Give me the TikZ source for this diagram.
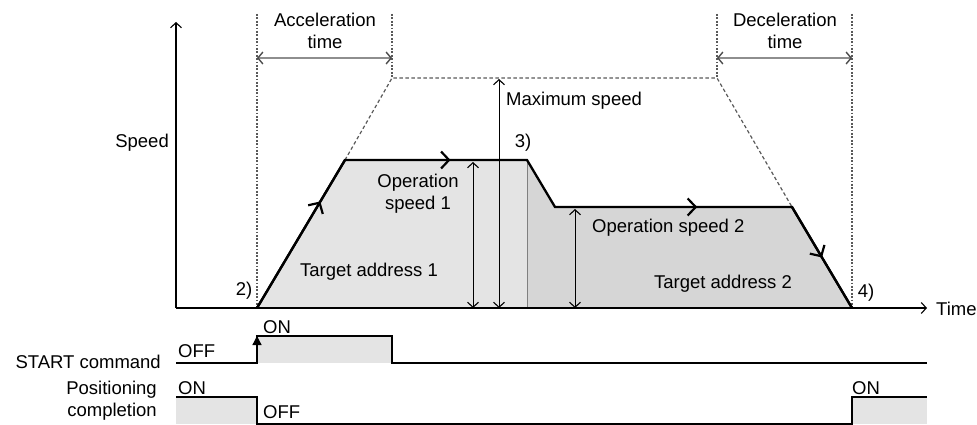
\documentclass[tikz,border=0pt]{standalone}
\usepackage{fontspec}
\setmainfont{Liberation Sans}
\usetikzlibrary{arrows.meta,decorations.markings}
\definecolor{fillA}{HTML}{E4E4E4}
\definecolor{fillB}{HTML}{D6D6D6}
\definecolor{spangray}{HTML}{8E8E8E}
\tikzset{
  barb/.tip={Straight Barb[length=5pt,width=11pt,line width=1.1pt]},
  bigbarb/.tip={Straight Barb[length=8pt,width=17pt,line width=2.2pt]},
  axis/.style={line width=1.1pt, -barb},
  profile/.style={line width=2.3pt, line join=miter},
  onarrow/.style={postaction={decorate,decoration={markings,
      mark=at position #1 with {\arrow{bigbarb}}}}},
  guide/.style={line width=1.2pt, dash pattern=on 1.8pt off 1.6pt, black!65},
  maxline/.style={line width=1.2pt, dash pattern=on 3.5pt off 2.5pt, black!65},
  dim/.style={line width=0.9pt, barb-barb},
  span/.style={line width=2.2pt, spangray,
    {Straight Barb[length=5pt,width=12pt,line width=1.4pt,color=black!70]}-{Straight Barb[length=5pt,width=12pt,line width=1.4pt,color=black!70]}},
  signal/.style={line width=1.3pt},
  lbl/.style={inner sep=0pt}
}
\begin{document}
\begin{tikzpicture}[x=1pt,y=-1pt, every node/.style={font=\fontsize{18.5}{22}\selectfont}]
    \useasboundingbox (0,0) rectangle (977,425);

    %%% speed / time graph %%%
    \coordinate (O) at (176,308);   \coordinate (Ytop) at (176,22);  \coordinate (Xend) at (927,308);
    \coordinate (A) at (257,308);   \coordinate (B) at (345,160);    \coordinate (C) at (527,160);
    \coordinate (D) at (555,207);   \coordinate (E) at (792,207);    \coordinate (F) at (852,308);
    \coordinate (Bmax) at (392,78); \coordinate (Emax) at (717,78);
    \coordinate (gA) at (257,14);   \coordinate (gB) at (392,14);
    \coordinate (gE) at (717,14);   \coordinate (gF) at (852,14);
    \coordinate (accL) at (257,58); \coordinate (accR) at (392,58);
    \coordinate (decL) at (717,58); \coordinate (decR) at (852,58);
    \coordinate (v1) at (473,162);  \coordinate (vmax) at (499,79);  \coordinate (v2) at (575,209);

    \fill[fillA] (A)--(B)--(C)--(C |- O)--cycle;
    \fill[fillB] (C)--(D)--(E)--(F)--(C |- O)--cycle;
    \draw[gray, line width=0.8pt] (C)--(C |- O);

    \draw[guide] (gA)--(A);   \draw[guide] (gB)--(Bmax);
    \draw[guide] (gE)--(Emax); \draw[guide] (gF)--(F);
    \draw[maxline] (B)--(Bmax)--(Emax)--(E);
    \draw[span] (accL)--(accR);  \draw[span] (decL)--(decR);

    \draw[axis] (O)--(Ytop);  \draw[axis] (O)--(Xend);

    \draw[dim] (v1)--(v1 |- O);  \draw[dim] (vmax)--(vmax |- O);  \draw[dim] (v2)--(v2 |- O);

    \draw[profile] (A)--(B)--(C)--(D)--(E)--(F);
    \draw[profile, onarrow=0.72] (A)--(B);   \draw[profile, onarrow=0.58] (B)--(C);
    \draw[profile, onarrow=0.6] (D)--(E);   \draw[profile, onarrow=0.5] (E)--(F);

    \node[lbl, align=center] (acc) at (325,31) {Acceleration\\time};
    \node[lbl, align=center] (dec) at (785,31) {Deceleration\\time};
    \node[lbl, anchor=east] (speed) at (169,143) {Speed};
    \node[lbl, anchor=west] (maxsp) at (506,101) {Maximum speed};
    \node[lbl] (n3) at (523,143) {3)};
    \node[lbl, align=center] (op1) at (418,194) {Operation\\speed 1};
    \node[lbl] (ta1) at (369,272) {Target address 1};
    \node[lbl] (n2) at (244,291) {2)};
    \node[lbl, anchor=west] (op2) at (592,228) {Operation speed 2};
    \node[lbl] (ta2) at (723,284) {Target address 2};
    \node[lbl] (n4) at (866,293) {4)};
    \node[lbl, anchor=west] (time) at (936,309) {Time};

    %%% START command %%%
    \coordinate (st0) at (176,363); \coordinate (st1) at (257,363); \coordinate (st2) at (257,336);
    \coordinate (st3) at (392,336); \coordinate (st4) at (392,363); \coordinate (st5) at (927,363);
    \fill[fillA] (st1)--(st2)--(st3)--(st4)--cycle;
    \draw[signal] (st0)--(st1)--(st2)--(st3)--(st4)--(st5);
    \draw[signal, -{Triangle[length=9pt,width=9pt]}] (st1)--(st2);
    \node[lbl, anchor=east] (startcmd) at (161,362) {START command};
    \node[lbl, anchor=west] (stoff) at (178,351) {OFF};
    \node[lbl, anchor=west] (ston) at (263,327) {ON};

    %%% Positioning completion %%%
    \coordinate (pc0) at (176,397); \coordinate (pc1) at (257,397); \coordinate (pc2) at (257,424);
    \coordinate (pc3) at (852,424); \coordinate (pc4) at (852,397); \coordinate (pc5) at (927,397);
    \fill[fillA] (pc0)--(pc1)--(pc2)--(pc0 |- pc2)--cycle;
    \fill[fillA] (pc3)--(pc4)--(pc5)--(pc5 |- pc3)--cycle;
    \draw[signal] (pc0)--(pc1)--(pc2)--(pc3)--(pc4)--(pc5);
    \node[lbl, anchor=east, align=right] (poscomp) at (157,401) {Positioning\\completion};
    \node[lbl, anchor=west] (pcon) at (178,388) {ON};
    \node[lbl, anchor=west] (pcoff) at (263,412) {OFF};
    \node[lbl, anchor=west] (pcon2) at (852,388) {ON};

\end{tikzpicture}
\end{document}
